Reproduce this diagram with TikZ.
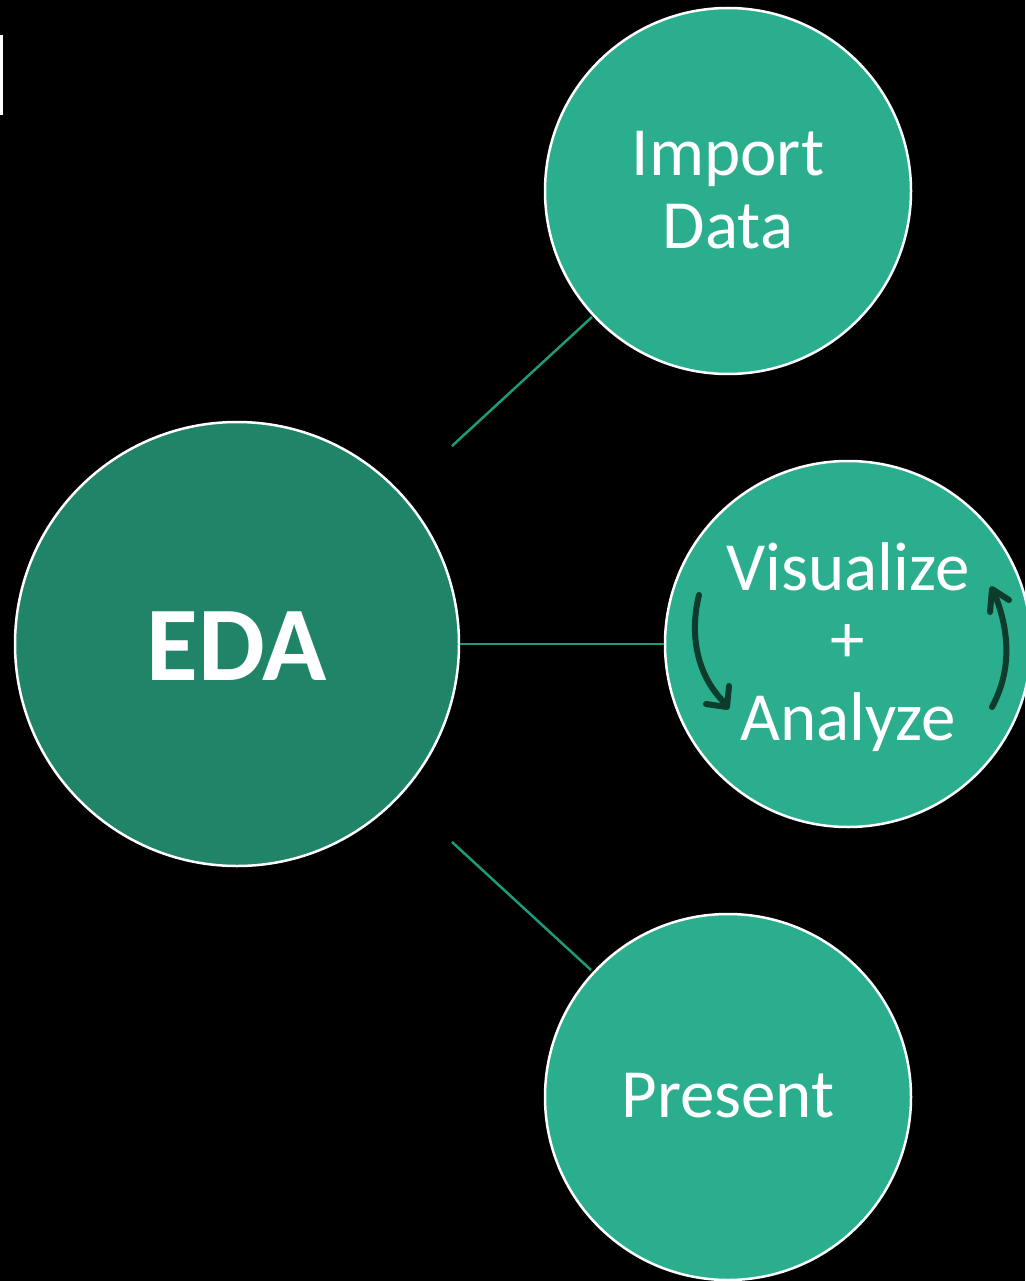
\documentclass[tikz,border=0pt]{standalone}
\usepackage{fontspec}
\setmainfont{Carlito}
\definecolor{bgc}{HTML}{000000}
\definecolor{darkg}{HTML}{1F8468}
\definecolor{lightg}{HTML}{2BAE8D}
\definecolor{linkg}{HTML}{1E9A78}
\definecolor{arrowg}{HTML}{0D3B2C}
\begin{document}
\begin{tikzpicture}[x=1pt,y=-1pt,
  bubble/.style={circle,draw=white,line width=2.5pt,inner sep=0pt},
  lbl/.style={text=white,font=\fontsize{69}{72}\selectfont,anchor=base,inner sep=0pt},
  link/.style={draw=linkg,line width=2.5pt},
  loop/.style={draw=arrowg,line width=6pt,line cap=round,line join=round}]
\useasboundingbox (0,0) rectangle (1025,1281);
\fill[bgc] (0,0) rectangle (1025,1281);
\fill[white] (0,35) rectangle (2.5,115);
% connectors
\coordinate (l1a) at (452,446);
\coordinate (l1b) at (592,317);
\coordinate (l3a) at (452,842);
\coordinate (l3b) at (591,970);
\draw[link] (l1a) -- (l1b);
\draw[link] (l3a) -- (l3b);
% circles
\node[bubble,fill=darkg,minimum size=444pt] (eda) at (237,644) {};
\node[bubble,fill=lightg,minimum size=366pt] (imp) at (728,191) {};
\node[bubble,fill=lightg,minimum size=366pt] (vis) at (848,644) {};
\node[bubble,fill=lightg,minimum size=366pt] (pre) at (728,1097) {};
\draw[link] (eda.east) -- (vis.west);
% texts
\node[text=white,font=\fontsize{106}{110}\selectfont\bfseries,anchor=base,inner sep=0pt] (edat) at (237,680) {EDA};
\node[lbl] (impt1) at (728,176) {Import};
\node[lbl] (impt2) at (728,248) {Data};
\node[lbl] (vist1) at (848,590) {Visualize};
\node[lbl] (vist2) at (848,662) {+};
\node[lbl] (vist3) at (848,740) {Analyze};
\node[lbl] (pret) at (728,1117) {Present};
% loop arrows
\draw[loop] (699,595) .. controls (688,640) and (700,680) .. (726,704);
\draw[loop] (706,704) -- (727,707) -- (729,686);
\draw[loop] (992,707) .. controls (1012,670) and (1010,630) .. (993,590);
\draw[loop] (990,612) -- (992,589) -- (1009,600);
\end{tikzpicture}
\end{document}
